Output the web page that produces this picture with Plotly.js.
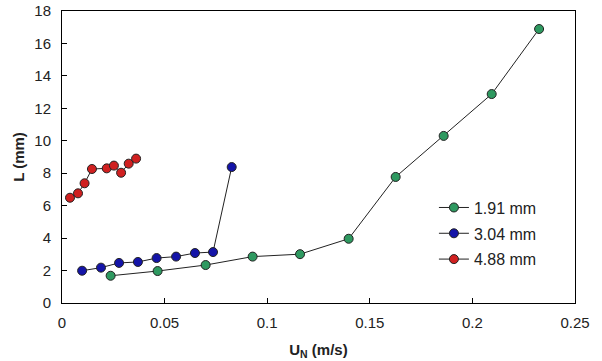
<!DOCTYPE html>
<html><head><meta charset="utf-8">
<script src="https://cdn.plot.ly/plotly-3.0.1.min.js"></script>
<style>html,body{margin:0;padding:0;background:#fff}#c{width:602px;height:361px}</style>
</head><body><div id="c"></div>
<script>
const names = ["1.91 mm", "3.04 mm", "4.88 mm"];
const colors = ["#2E9960", "#1414A8", "#D02020"];
const x191 = [0.0237, 0.0466, 0.070, 0.0929, 0.1160, 0.1397, 0.1626, 0.186, 0.2094, 0.2325];
const y191 = [1.68, 1.97, 2.34, 2.86, 3.01, 3.96, 7.77, 10.30, 12.88, 16.89];
const x304 = [0.0098, 0.019, 0.0278, 0.037, 0.0461, 0.0556, 0.0648, 0.0736, 0.0827];
const y304 = [1.99, 2.18, 2.47, 2.53, 2.77, 2.86, 3.08, 3.14, 8.38];
const x488 = [0.0039, 0.0078, 0.011, 0.0146, 0.0218, 0.0253, 0.0288, 0.0325, 0.0361];
const y488 = [6.49, 6.76, 7.38, 8.26, 8.30, 8.47, 8.03, 8.59, 8.90];
const xs = [x191, x304, x488], ys = [y191, y304, y488];

const traces = names.map((n, i) => ({
  type: 'scatter', mode: 'lines+markers', name: n, x: xs[i], y: ys[i],
  legendgroup: 'g' + i,
  line: {color: '#222', width: 1},
  marker: {color: colors[i], size: 9, line: {color: '#222', width: 1}}
}));

const fam = 'Liberation Sans, Arial, sans-serif';
const font = {family: fam, size: 15, color: '#222'};
const layout = {
  width: 602, height: 361,
  margin: {l: 62, r: 27, t: 11, b: 58},
  paper_bgcolor: '#fff', plot_bgcolor: '#fff',
  font: font,
  showlegend: true,
  legend: {x: 0.725, y: 0.385, xanchor: 'left', yanchor: 'top', bgcolor: 'rgba(0,0,0,0)',
           font: {family: fam, size: 16, color: '#222'}, itemwidth: 30, tracegroupgap: 2},
  xaxis: {range: [0, 0.25], dtick: 0.05, tick0: 0, ticks: 'inside', ticklen: 5, tickcolor: '#000',
          showline: true, linecolor: '#000', linewidth: 1, mirror: true, showgrid: false, zeroline: false,
          tickfont: font, ticklabelstandoff: 6,
          title: {text: '<b>U<sub>N</sub> (m/s)</b>', font: {family: fam, size: 15, color: '#222'}, standoff: 14}},
  yaxis: {range: [0, 18], dtick: 2, tick0: 0, ticks: 'inside', ticklen: 5, tickcolor: '#000',
          showline: true, linecolor: '#000', linewidth: 1, mirror: true, showgrid: false, zeroline: false,
          tickfont: font, ticklabelstandoff: 7,
          title: {text: '<b>L (mm)</b>', font: {family: fam, size: 15, color: '#222'}, standoff: 6}}
};
Plotly.newPlot('c', traces, layout, {displayModeBar: false, staticPlot: true});
</script></body></html>
